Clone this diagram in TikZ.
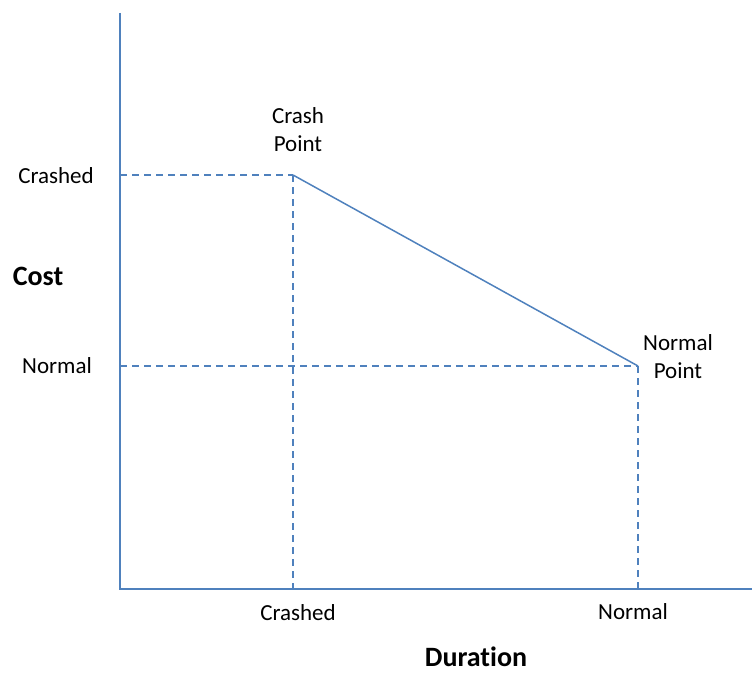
\documentclass[tikz,border=0pt]{standalone}
\usepackage{fontspec}
\setmainfont{Carlito}[Ligatures=CommonOff]
\begin{document}
\begin{tikzpicture}[x=1bp,y=-1bp,
  axis/.style={draw=axisblue,line width=1.8bp},
  curve/.style={draw=axisblue,line width=1.5bp},
  guide/.style={draw=axisblue,line width=1.5bp,dash pattern=on 7bp off 5bp},
  lbl/.style={font=\fontsize{23bp}{28bp}\selectfont,text=black,inner sep=0pt,align=center},
  title/.style={font=\fontsize{28bp}{32bp}\selectfont\bfseries,text=black,inner sep=0pt}]
\definecolor{axisblue}{RGB}{79,129,189}
\useasboundingbox (0,0) rectangle (752,673);

% axes
\coordinate (top) at (120,13);
\coordinate (origin) at (120,589);
\coordinate (right) at (752,589);
\draw[axis] (top) -- (origin) -- (right);

% the two points of the cost-duration line
\coordinate (crash) at (293,175);
\coordinate (normal) at (638,366);
\coordinate (crashY) at (120,175);
\coordinate (normalY) at (120,366);
\coordinate (crashX) at (293,589);
\coordinate (normalX) at (638,589);

\draw[guide] (crashY) -- (crash);
\draw[guide] (crash) -- (crashX);
\draw[guide] (normalY) -- (normal);
\draw[guide] (normal) -- (normalX);
\draw[curve] (crash) -- (normal);

% labels
\node[lbl] (crashlbl) at (298,130) {Crash\\Point};
\node[lbl] (normallbl) at (678,357) {Normal\\Point};
\node[lbl] (ycrashed) at (56,176) {Crashed};
\node[lbl] (ynormal) at (57,366) {Normal};
\node[lbl] (xcrashed) at (298,613) {Crashed};
\node[lbl] (xnormal) at (633,612) {Normal};
\node[title] (cost) at (38,276) {Cost};
\node[title] (duration) at (476,657) {Duration};
\end{tikzpicture}
\end{document}
